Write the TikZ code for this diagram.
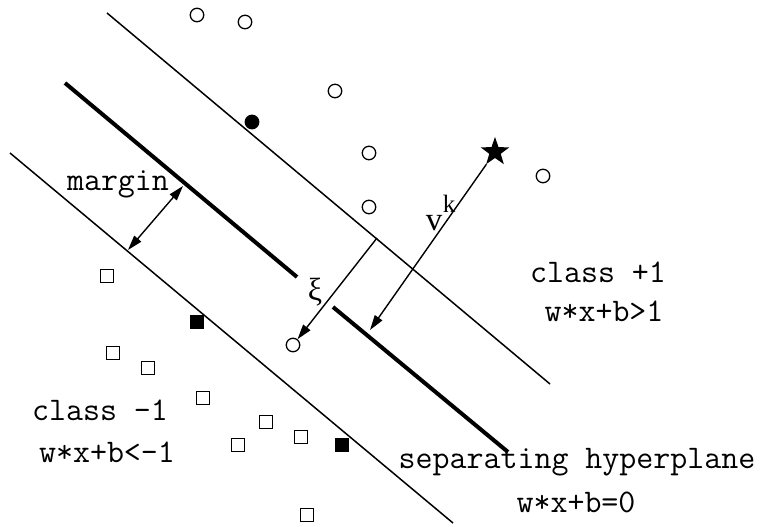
\documentclass[tikz,border=0pt]{standalone}
\usepackage{fontspec}
\newfontfamily\symbfont{Liberation Serif}
\usetikzlibrary{shapes.geometric,arrows.meta}

\tikzset{
  posdot/.style={circle,draw,line width=1.3pt,minimum size=13.5pt,inner sep=0pt},
  posdotsv/.style={posdot,fill=black},
  negbox/.style={rectangle,draw,line width=1.3pt,minimum size=12.5pt,inner sep=0pt},
  negboxsv/.style={negbox,fill=black},
  lbl/.style={font=\ttfamily\fontsize{33}{36}\selectfont,anchor=base},
  sym/.style={inner sep=0pt,anchor=base},
  plane/.style={line width=1.5pt},
  hyper/.style={line width=4pt},
  vec/.style={-{Triangle[length=15pt,width=9pt]},line width=1.4pt}
}

\begin{document}
\begin{tikzpicture}[x=1pt,y=-1pt]
        \useasboundingbox (0,0) rectangle (764,527);

        % Ebenen w*x+b = 1, 0, -1
        \coordinate (up1) at (107,13);
        \coordinate (up2) at (550,384);
        \coordinate (mid1) at (65,83);
        \coordinate (mid2) at (297,277);
        \coordinate (mid3) at (333,307);
        \coordinate (mid4) at (508,452);
        \coordinate (low1) at (10,153);
        \coordinate (low2) at (453,523);
        \draw[plane] (up1) -- (up2);
        \draw[hyper] (mid1) -- (mid2);
        \draw[hyper] (mid3) -- (mid4);
        \draw[plane] (low1) -- (low2);

        % Klasse +1
        \node[posdot] (p1) at (197,15) {};
        \node[posdot] (p2) at (245,22) {};
        \node[posdot] (p3) at (335,91) {};
        \node[posdot] (p4) at (369,153) {};
        \node[posdot] (p5) at (369,207) {};
        \node[posdot] (p6) at (543,176) {};
        \node[posdotsv] (psv) at (252,122) {};
        \node[posdot] (slack) at (293,345) {};
        \node[star,star points=5,star point ratio=2.5,fill=black,
              minimum size=30pt,inner sep=0pt] (query) at (495,152) {};

        % Klasse -1
        \node[negbox] (n1) at (107,276) {};
        \node[negbox] (n2) at (113,353) {};
        \node[negbox] (n3) at (148,368) {};
        \node[negbox] (n4) at (203,398) {};
        \node[negbox] (n5) at (266,422) {};
        \node[negbox] (n6) at (238,445) {};
        \node[negbox] (n7) at (301,437) {};
        \node[negbox] (n8) at (307,515) {};
        \node[negboxsv] (nsv1) at (197,322) {};
        \node[negboxsv] (nsv2) at (342,445) {};

        % Pfeile
        \coordinate (mtop) at (183,186);
        \coordinate (mbot) at (128,250);
        \draw[vec,{Triangle[length=15pt,width=9pt]}-{Triangle[length=15pt,width=9pt]}] (mtop) -- (mbot);
        \coordinate (xifoot) at (377,238);
        \draw[vec] (xifoot) -- (slack);
        \coordinate (vtip) at (370,330);
        \draw[vec] (query) -- (vtip);

        % Beschriftungen
        \node[lbl] (margin) at (118,190) {margin};
        \node[sym,font=\symbfont\fontsize{32}{32}\selectfont] (xi) at (315,300) {ξ};
        \node[sym,font=\symbfont\fontsize{33}{33}\selectfont] (v) at (434,230) {v};
        \node[sym,font=\symbfont\fontsize{25}{25}\selectfont] (k) at (449,212) {k};
        \node[lbl] (cpos) at (598,282) {class +1};
        \node[lbl] (epos) at (604,321) {w*x+b>1};
        \node[lbl] (sep) at (577,468) {separating hyperplane};
        \node[lbl] (esep) at (576,512) {w*x+b=0};
        \node[lbl] (cneg) at (100,420) {class -1};
        \node[lbl] (eneg) at (107,462) {w*x+b<-1};
    \end{tikzpicture}
\end{document}
